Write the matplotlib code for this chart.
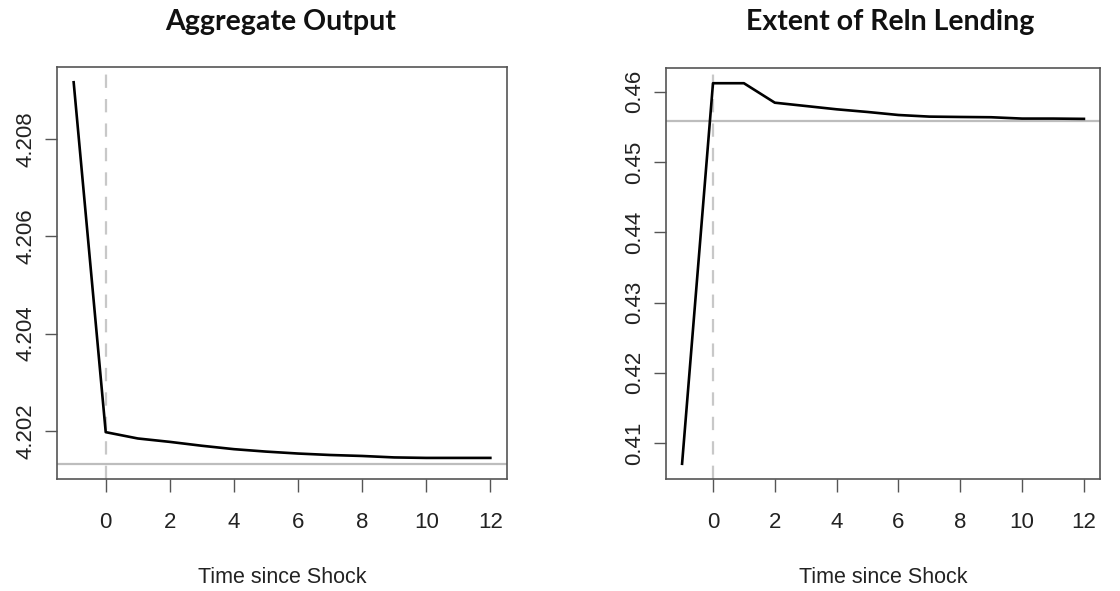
import matplotlib
matplotlib.use("Agg")
import matplotlib.pyplot as plt

# impulse responses, periods -1 .. 12
periods = [-1, 0, 1, 2, 3, 4, 5, 6, 7, 8, 9, 10, 11, 12]

output_path = [4.20917, 4.20197, 4.20184, 4.20177, 4.20169, 4.20162, 4.20157,
               4.20153, 4.20150, 4.20148, 4.20145, 4.20144, 4.20144, 4.20144]
output_ss = 4.20132
output_ticks = [4.202, 4.204, 4.206, 4.208]

reln_path = [0.40707, 0.46120, 0.46120, 0.45843, 0.45796, 0.45749, 0.45711,
             0.45668, 0.45645, 0.45640, 0.45636, 0.45617, 0.45617, 0.45613]
reln_ss = 0.45589
reln_ticks = [0.41, 0.42, 0.43, 0.44, 0.45, 0.46]

x_ticks = [0, 2, 4, 6, 8, 10, 12]

plt.rcParams['font.family'] = ['Liberation Sans', 'DejaVu Sans']

fig = plt.figure(figsize=(11.2, 5.91), dpi=100)
ax1 = fig.add_axes([57 / 1120, 1 - 479 / 591, 450 / 1120, 412 / 591])
ax2 = fig.add_axes([666 / 1120, 1 - 479 / 591, 434 / 1120, 411 / 591])


def irf_panel(ax, path, ss, yticks, title, title_x):
    # R style: range of data plus steady state, padded by 4%
    lo = min(min(path), ss)
    hi = max(max(path), ss)
    pad = (hi - lo) * 0.04
    ax.set_ylim(lo - pad, hi + pad)
    xpad = (periods[-1] - periods[0]) * 0.04
    ax.set_xlim(periods[0] - xpad, periods[-1] + xpad)

    ax.axhline(ss, color='#bdbdbd', lw=1.6, zorder=1)
    ax.axvline(0, color='#c8c8c8', lw=1.6, dashes=(6, 5), zorder=1)
    ax.plot(periods, path, color='black', lw=1.9, zorder=3)

    ax.set_xticks(x_ticks)
    ax.set_yticks(yticks)
    ax.set_yticklabels([f"{v:g}" for v in yticks], rotation=90, va='center')
    ax.tick_params(axis='x', length=9, width=1, color='#555555', pad=15,
                   labelsize=16, labelcolor='#222222')
    ax.tick_params(axis='y', length=9, width=1, color='#555555', pad=6,
                   labelsize=16, labelcolor='#222222')
    for s in ax.spines.values():
        s.set_color('#555555')
        s.set_linewidth(1.2)

    ax.set_xlabel('Time since Shock', fontsize=15.5, color='#222222', labelpad=24)
    fig.text(title_x / 1120, 1 - 22 / 591, title, ha='center', va='center',
             fontsize=20.5, fontweight='bold', family=['Lato', 'DejaVu Sans'],
             color='#111111')


irf_panel(ax1, output_path, output_ss, output_ticks, 'Aggregate Output', 281)
irf_panel(ax2, reln_path, reln_ss, reln_ticks, 'Extent of Reln Lending', 890)

fig.savefig('out.png', dpi=100)
